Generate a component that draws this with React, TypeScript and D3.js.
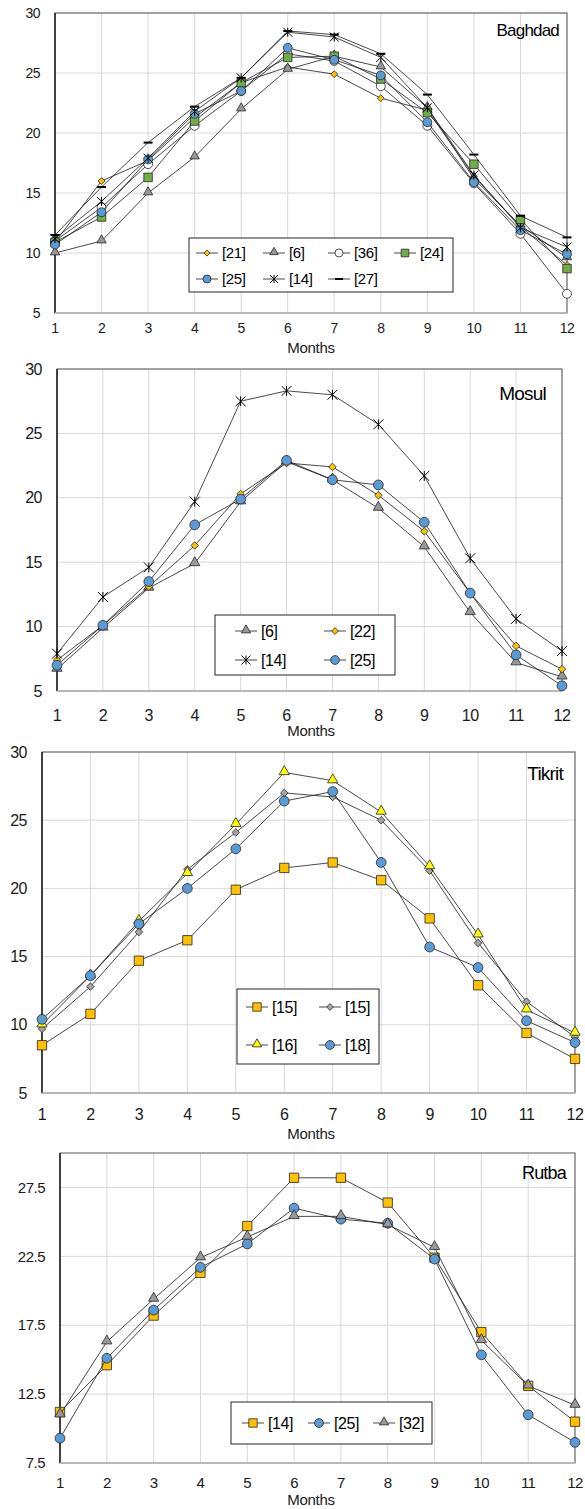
import React from 'react';
import * as d3 from 'd3';

const months = [1, 2, 3, 4, 5, 6, 7, 8, 9, 10, 11, 12];

// Baghdad
const bagh21 = [10.9, 16.0, 17.7, 21.3, 24.2, 25.5, 24.9, 22.9, 21.9, 16.4, 12.2, 9.0];
const bagh6 = [10.0, 11.0, 15.0, 18.0, 22.0, 25.3, 26.4, 25.5, 22.1, 16.2, 12.3, 9.6];
const bagh36 = [11.0, 13.8, 17.4, 20.6, 23.5, 26.6, 26.0, 23.9, 20.6, 15.8, 11.6, 6.6];
const bagh24 = [10.9, 13.0, 16.3, 21.0, 24.2, 26.3, 26.4, 24.5, 21.7, 17.4, 12.8, 8.7];
const bagh25 = [10.7, 13.4, 17.8, 21.6, 23.5, 27.1, 26.1, 24.8, 20.9, 15.9, 11.9, 9.9];
const bagh14 = [11.2, 14.3, 17.9, 21.8, 24.6, 28.4, 28.0, 26.3, 22.1, 16.5, 12.1, 10.5];
const bagh27 = [11.5, 15.5, 19.2, 22.2, 24.6, 28.5, 28.2, 26.6, 23.2, 18.2, 13.1, 11.3];

// Mosul
const mos6 = [6.7, 9.9, 13.0, 14.9, 19.7, 22.8, 21.4, 19.2, 16.2, 11.1, 7.2, 6.1];
const mos22 = [7.4, 10.1, 13.1, 16.3, 20.3, 22.7, 22.4, 20.2, 17.4, 12.6, 8.5, 6.7];
const mos14 = [7.9, 12.3, 14.6, 19.7, 27.5, 28.3, 28.0, 25.7, 21.7, 15.3, 10.6, 8.1];
const mos25 = [7.0, 10.1, 13.5, 17.9, 19.9, 22.9, 21.4, 21.0, 18.1, 12.6, 7.8, 5.4];

// Tikrit
const tik15a = [8.5, 10.8, 14.7, 16.2, 19.9, 21.5, 21.9, 20.6, 17.8, 12.9, 9.4, 7.5];
const tik15b = [9.7, 12.8, 16.8, 21.4, 24.1, 27.0, 26.7, 25.0, 21.3, 16.0, 11.7, 9.1];
const tik16 = [10.0, 13.6, 17.6, 21.1, 24.7, 28.5, 27.9, 25.6, 21.6, 16.6, 11.1, 9.4];
const tik18 = [10.4, 13.6, 17.4, 20.0, 22.9, 26.4, 27.1, 21.9, 15.7, 14.2, 10.3, 8.7];

// Rutba
const rut14 = [11.2, 14.6, 18.2, 21.3, 24.7, 28.2, 28.2, 26.4, 22.4, 17.0, 13.1, 10.5];
const rut25 = [9.3, 15.1, 18.6, 21.7, 23.4, 26.0, 25.2, 24.9, 22.3, 15.35, 11.0, 9.0];
const rut32 = [11.0, 16.3, 19.4, 22.4, 23.9, 25.4, 25.4, 24.8, 23.15, 16.4, 13.1, 11.7];

const ticks5to30 = [5, 10, 15, 20, 25, 30];
const ticksRutba = [7.5, 12.5, 17.5, 22.5, 27.5];

const FONT = '"Liberation Sans", Arial, sans-serif';
const YELLOW = '#FFC000';
const GRAY = '#999999';
const GREEN = '#70AD47';
const BLUE = '#5B9BD5';

type Mk = 'diamond' | 'triangle' | 'circle' | 'square' | 'star' | 'dash';

function Marker({ kind, x, y, fill, s = 1 }: { kind: Mk; x: number; y: number; fill: string; s?: number }) {
  const st = '#262626';
  if (kind === 'star') {
    const r = 4.5 * s;
    return (
      <g transform={`translate(${x},${y})`} stroke="#000" strokeWidth={1}>
        <line x1={-r} y1={-r} x2={r} y2={r} />
        <line x1={-r} y1={r} x2={r} y2={-r} />
        <line x1={0} y1={-r} x2={0} y2={r} />
      </g>
    );
  }
  if (kind === 'dash') {
    return <line x1={x - 4.5 * s} x2={x + 4.5 * s} y1={y} y2={y} stroke="#000" strokeWidth={2} />;
  }
  const sizes: Record<string, number> = { diamond: 30, triangle: 38, circle: 62, square: 72 };
  const types: Record<string, d3.SymbolType> = {
    diamond: d3.symbolDiamond2,
    triangle: d3.symbolTriangle,
    circle: d3.symbolCircle,
    square: d3.symbolSquare,
  };
  const path = d3.symbol().type(types[kind]).size(sizes[kind] * s * s)() || '';
  const dy = kind === 'triangle' ? -0.8 : 0;
  return <path d={path} transform={`translate(${x},${y + dy})`} fill={fill} stroke={st} strokeWidth={0.8} />;
}

interface Series { name: string; values: number[]; marker: Mk; fill: string; }
interface LegendItem { idx: number; x: number; y: number; }

interface PanelProps {
  title: string;
  series: Series[];
  x0: number; x1: number; yTop: number; yBot: number;
  domain: [number, number];
  yTicks: number[];
  tickFmt: (v: number) => string;
  yLabelRight: number;
  xLabelY: number;
  monthsY: number;
  monthsSize: number;
  fontSize: number;
  titleX: number; titleY: number; titleSize: number;
  legendBox: [number, number, number, number];
  legend: LegendItem[];
  legendFont: number;
  ms: number;
}

function Panel(p: PanelProps) {
  const x = d3.scaleLinear().domain([1, 12]).range([p.x0, p.x1]);
  const y = d3.scaleLinear().domain(p.domain).range([p.yBot, p.yTop]);
  const line = d3.line<number>().x((_, i) => x(months[i])).y((v) => y(v));
  return (
    <g fontFamily={FONT}>
      <rect x={p.x0} y={p.yTop} width={p.x1 - p.x0} height={p.yBot - p.yTop} fill="#fff" />
      {months.map((m) => (
        <line key={'gx' + m} x1={x(m)} x2={x(m)} y1={p.yTop} y2={p.yBot} stroke="#d9d9d9" strokeWidth={1} />
      ))}
      {p.yTicks.map((t) => (
        <line key={'gy' + t} x1={p.x0} x2={p.x1} y1={y(t)} y2={y(t)} stroke="#d9d9d9" strokeWidth={1} />
      ))}
      <rect x={p.x0} y={p.yTop} width={p.x1 - p.x0} height={p.yBot - p.yTop} fill="none" stroke="#595959" strokeWidth={1} />
      <line x1={p.x0} x2={p.x0} y1={p.yTop} y2={p.yBot} stroke="#000" strokeWidth={1.2} />
      <line x1={p.x0} x2={p.x1} y1={p.yBot} y2={p.yBot} stroke="#bfbfbf" strokeWidth={1.5} />
      {p.yTicks.map((t) => (
        <text key={'ty' + t} x={p.yLabelRight} y={y(t)} dy="0.35em" textAnchor="end" fontSize={p.fontSize} fill="#1a1a1a" letterSpacing={-0.5}>
          {p.tickFmt(t)}
        </text>
      ))}
      {months.map((m) => (
        <text key={'tx' + m} x={x(m)} y={p.xLabelY} dy="0.35em" textAnchor="middle" fontSize={p.fontSize} fill="#1a1a1a" letterSpacing={-0.5}>
          {m}
        </text>
      ))}
      <text x={311} y={p.monthsY} dy="0.35em" textAnchor="middle" fontSize={p.monthsSize} fill="#1a1a1a" letterSpacing={-0.3}>
        Months
      </text>
      {p.series.map((s, si) => (
        <g key={'s' + si}>
          <path d={line(s.values) || ''} fill="none" stroke="#1a1a1a" strokeWidth={0.8} />
          {s.values.map((v, i) => (
            <Marker key={i} kind={s.marker} x={x(months[i])} y={y(v)} fill={s.fill} s={p.ms} />
          ))}
        </g>
      ))}
      <text x={p.titleX} y={p.titleY} textAnchor="end" fontSize={p.titleSize} fill="#000" letterSpacing={-0.8}>
        {p.title}
      </text>
      <rect x={p.legendBox[0]} y={p.legendBox[1]} width={p.legendBox[2]} height={p.legendBox[3]} fill="#fff" stroke="#262626" strokeWidth={1} />
      {p.legend.map((l, li) => {
        const s = p.series[l.idx];
        return (
          <g key={'l' + li}>
            <line x1={l.x - 11} x2={l.x + 11} y1={l.y} y2={l.y} stroke="#1a1a1a" strokeWidth={0.8} />
            <Marker kind={s.marker} x={l.x} y={l.y} fill={s.fill} s={p.ms * 0.9} />
            <text x={l.x + 15} y={l.y} dy="0.35em" fontSize={p.legendFont} fill="#000" letterSpacing={-0.4}>
              {s.name}
            </text>
          </g>
        );
      })}
    </g>
  );
}

const fmtInt = (v: number) => String(v);
const fmtDec = (v: number) => v.toFixed(1);

export default function App() {
  const baghdad: Series[] = [
    { name: '[21]', values: bagh21, marker: 'diamond', fill: YELLOW },
    { name: '[6]', values: bagh6, marker: 'triangle', fill: GRAY },
    { name: '[36]', values: bagh36, marker: 'circle', fill: '#fff' },
    { name: '[24]', values: bagh24, marker: 'square', fill: GREEN },
    { name: '[25]', values: bagh25, marker: 'circle', fill: BLUE },
    { name: '[14]', values: bagh14, marker: 'star', fill: '#000' },
    { name: '[27]', values: bagh27, marker: 'dash', fill: '#000' },
  ];
  const mosul: Series[] = [
    { name: '[6]', values: mos6, marker: 'triangle', fill: GRAY },
    { name: '[22]', values: mos22, marker: 'diamond', fill: YELLOW },
    { name: '[14]', values: mos14, marker: 'star', fill: '#000' },
    { name: '[25]', values: mos25, marker: 'circle', fill: BLUE },
  ];
  const tikrit: Series[] = [
    { name: '[15]', values: tik15a, marker: 'square', fill: YELLOW },
    { name: '[15]', values: tik15b, marker: 'diamond', fill: '#A5A5A5' },
    { name: '[16]', values: tik16, marker: 'triangle', fill: '#FFFF00' },
    { name: '[18]', values: tik18, marker: 'circle', fill: BLUE },
  ];
  const rutba: Series[] = [
    { name: '[14]', values: rut14, marker: 'square', fill: YELLOW },
    { name: '[25]', values: rut25, marker: 'circle', fill: BLUE },
    { name: '[32]', values: rut32, marker: 'triangle', fill: GRAY },
  ];

  return (
    <svg width={585} height={1509} style={{ position: 'absolute', left: 0, top: 0, background: '#fff' }}>
      <rect width={585} height={1509} fill="#fff" />
      <Panel
        title="Baghdad" series={baghdad}
        x0={55} x1={567} yTop={13} yBot={313} domain={[5, 30]} yTicks={ticks5to30} tickFmt={fmtInt}
        yLabelRight={40} xLabelY={328} monthsY={348} monthsSize={15} fontSize={14}
        titleX={559} titleY={36} titleSize={17}
        legendBox={[189, 238, 264, 54]}
        legend={[
          { idx: 0, x: 207, y: 253 }, { idx: 1, x: 274, y: 253 }, { idx: 2, x: 339, y: 253 }, { idx: 3, x: 405, y: 253 },
          { idx: 4, x: 207, y: 279 }, { idx: 5, x: 274, y: 279 }, { idx: 6, x: 339, y: 279 },
        ]}
        legendFont={15} ms={1}
      />
      <Panel
        title="Mosul" series={mosul}
        x0={57} x1={562} yTop={369} yBot={691} domain={[5, 30]} yTicks={ticks5to30} tickFmt={fmtInt}
        yLabelRight={42} xLabelY={715} monthsY={731} monthsSize={15} fontSize={16}
        titleX={546} titleY={400} titleSize={19}
        legendBox={[215, 615, 180, 60]}
        legend={[
          { idx: 0, x: 246, y: 631 }, { idx: 1, x: 335, y: 631 },
          { idx: 2, x: 246, y: 660 }, { idx: 3, x: 335, y: 660 },
        ]}
        legendFont={16} ms={1.1}
      />
      <Panel
        title="Tikrit" series={tikrit}
        x0={42} x1={575} yTop={752} yBot={1093} domain={[5, 30]} yTicks={ticks5to30} tickFmt={fmtInt}
        yLabelRight={27} xLabelY={1114} monthsY={1134} monthsSize={15} fontSize={16}
        titleX={563} titleY={780} titleSize={19}
        legendBox={[237, 989, 142, 75]}
        legend={[
          { idx: 0, x: 257, y: 1007 }, { idx: 1, x: 330, y: 1007 },
          { idx: 2, x: 257, y: 1045 }, { idx: 3, x: 330, y: 1045 },
        ]}
        legendFont={16} ms={1.1}
      />
      <Panel
        title="Rutba" series={rutba}
        x0={60} x1={575} yTop={1153} yBot={1463} domain={[7.5, 30]} yTicks={ticksRutba} tickFmt={fmtDec}
        yLabelRight={45} xLabelY={1483} monthsY={1500} monthsSize={15} fontSize={15}
        titleX={566} titleY={1179} titleSize={18}
        legendBox={[231, 1402, 201, 42]}
        legend={[{ idx: 0, x: 253, y: 1423 }, { idx: 1, x: 319, y: 1423 }, { idx: 2, x: 384, y: 1423 }]}
        legendFont={16} ms={1.1}
      />
    </svg>
  );
}
